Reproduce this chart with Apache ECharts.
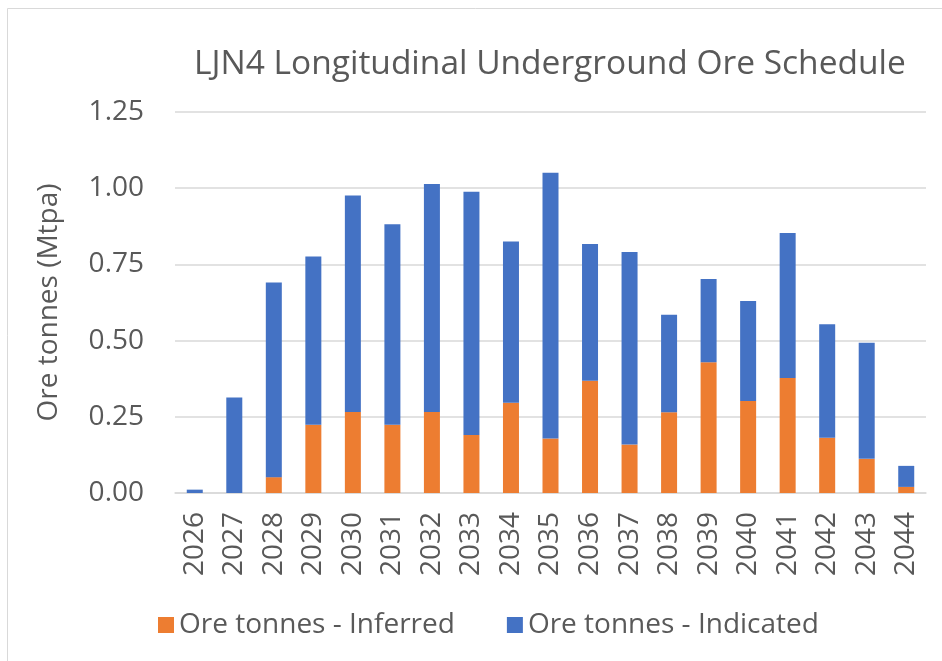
<!DOCTYPE html>
<html>
<head>
<meta charset="utf-8">
<script src="https://cdn.jsdelivr.net/npm/echarts@6/dist/echarts.min.js"></script>
<style>html,body{margin:0;padding:0;background:#fff;}#c{width:942px;height:661px;}</style>
</head>
<body>
<div id="c"></div>
<script>
const years = ['2026','2027','2028','2029','2030','2031','2032','2033','2034','2035','2036','2037','2038','2039','2040','2041','2042','2043','2044'];
const inferred = [0, 0, 0.052, 0.224, 0.266, 0.224, 0.266, 0.190, 0.296, 0.179, 0.368, 0.159, 0.265, 0.429, 0.302, 0.377, 0.181, 0.112, 0.020];
const indicated = [0.011, 0.313, 0.639, 0.552, 0.710, 0.658, 0.748, 0.798, 0.529, 0.872, 0.449, 0.632, 0.320, 0.273, 0.328, 0.476, 0.373, 0.381, 0.069];
const yTicks = [0, 0.25, 0.5, 0.75, 1.0, 1.25];

const font = 'Open Sans';
const txt = '#595959';
const chart = echarts.init(document.getElementById('c'));
chart.setOption({
  animation: false,
  backgroundColor: '#fff',
  title: {
    text: 'LJN4 Longitudinal Underground Ore Schedule',
    left: 189, top: 42,
    textStyle: {fontFamily: font, fontSize: 33.5, fontWeight: 'normal', color: txt}
  },
  legend: {
    top: 606, left: 153,
    itemWidth: 16, itemHeight: 16, itemGap: 52,
    icon: 'rect',
    textStyle: {fontFamily: font, fontSize: 28, color: txt},
    data: ['Ore tonnes - Inferred', 'Ore tonnes - Indicated']
  },
  grid: {left: 175, right: 16, top: 112, bottom: 168, containLabel: false},
  xAxis: {
    type: 'category', data: years,
    axisLine: {lineStyle: {color: '#D9D9D9', width: 1.5}},
    axisTick: {show: false},
    axisLabel: {rotate: 90, fontFamily: font, fontSize: 28, color: txt, margin: 19}
  },
  yAxis: {
    type: 'value', min: 0, max: 1.25, interval: 0.25,
    name: 'Ore tonnes (Mtpa)', nameLocation: 'middle', nameGap: 112, nameRotate: 90,
    nameTextStyle: {fontFamily: font, fontSize: 28, color: txt},
    axisLine: {show: false}, axisTick: {show: false},
    splitLine: {lineStyle: {color: '#D9D9D9', width: 1.5}},
    axisLabel: {fontFamily: font, fontSize: 28, color: txt, margin: 31,
      formatter: v => v.toFixed(2)}
  },
  series: [
    {name: 'Ore tonnes - Inferred', type: 'bar', stack: 's', data: inferred, barWidth: 16,
      itemStyle: {color: '#ED7D31'}},
    {name: 'Ore tonnes - Indicated', type: 'bar', stack: 's', data: indicated, barWidth: 16,
      itemStyle: {color: '#4472C4'}}
  ],
  graphic: [{type: 'rect', shape: {x: 7.5, y: 8.5, width: 1000, height: 1000},
    style: {fill: 'none', stroke: '#D9D9D9', lineWidth: 1}, silent: true}]
});
</script>
</body>
</html>
